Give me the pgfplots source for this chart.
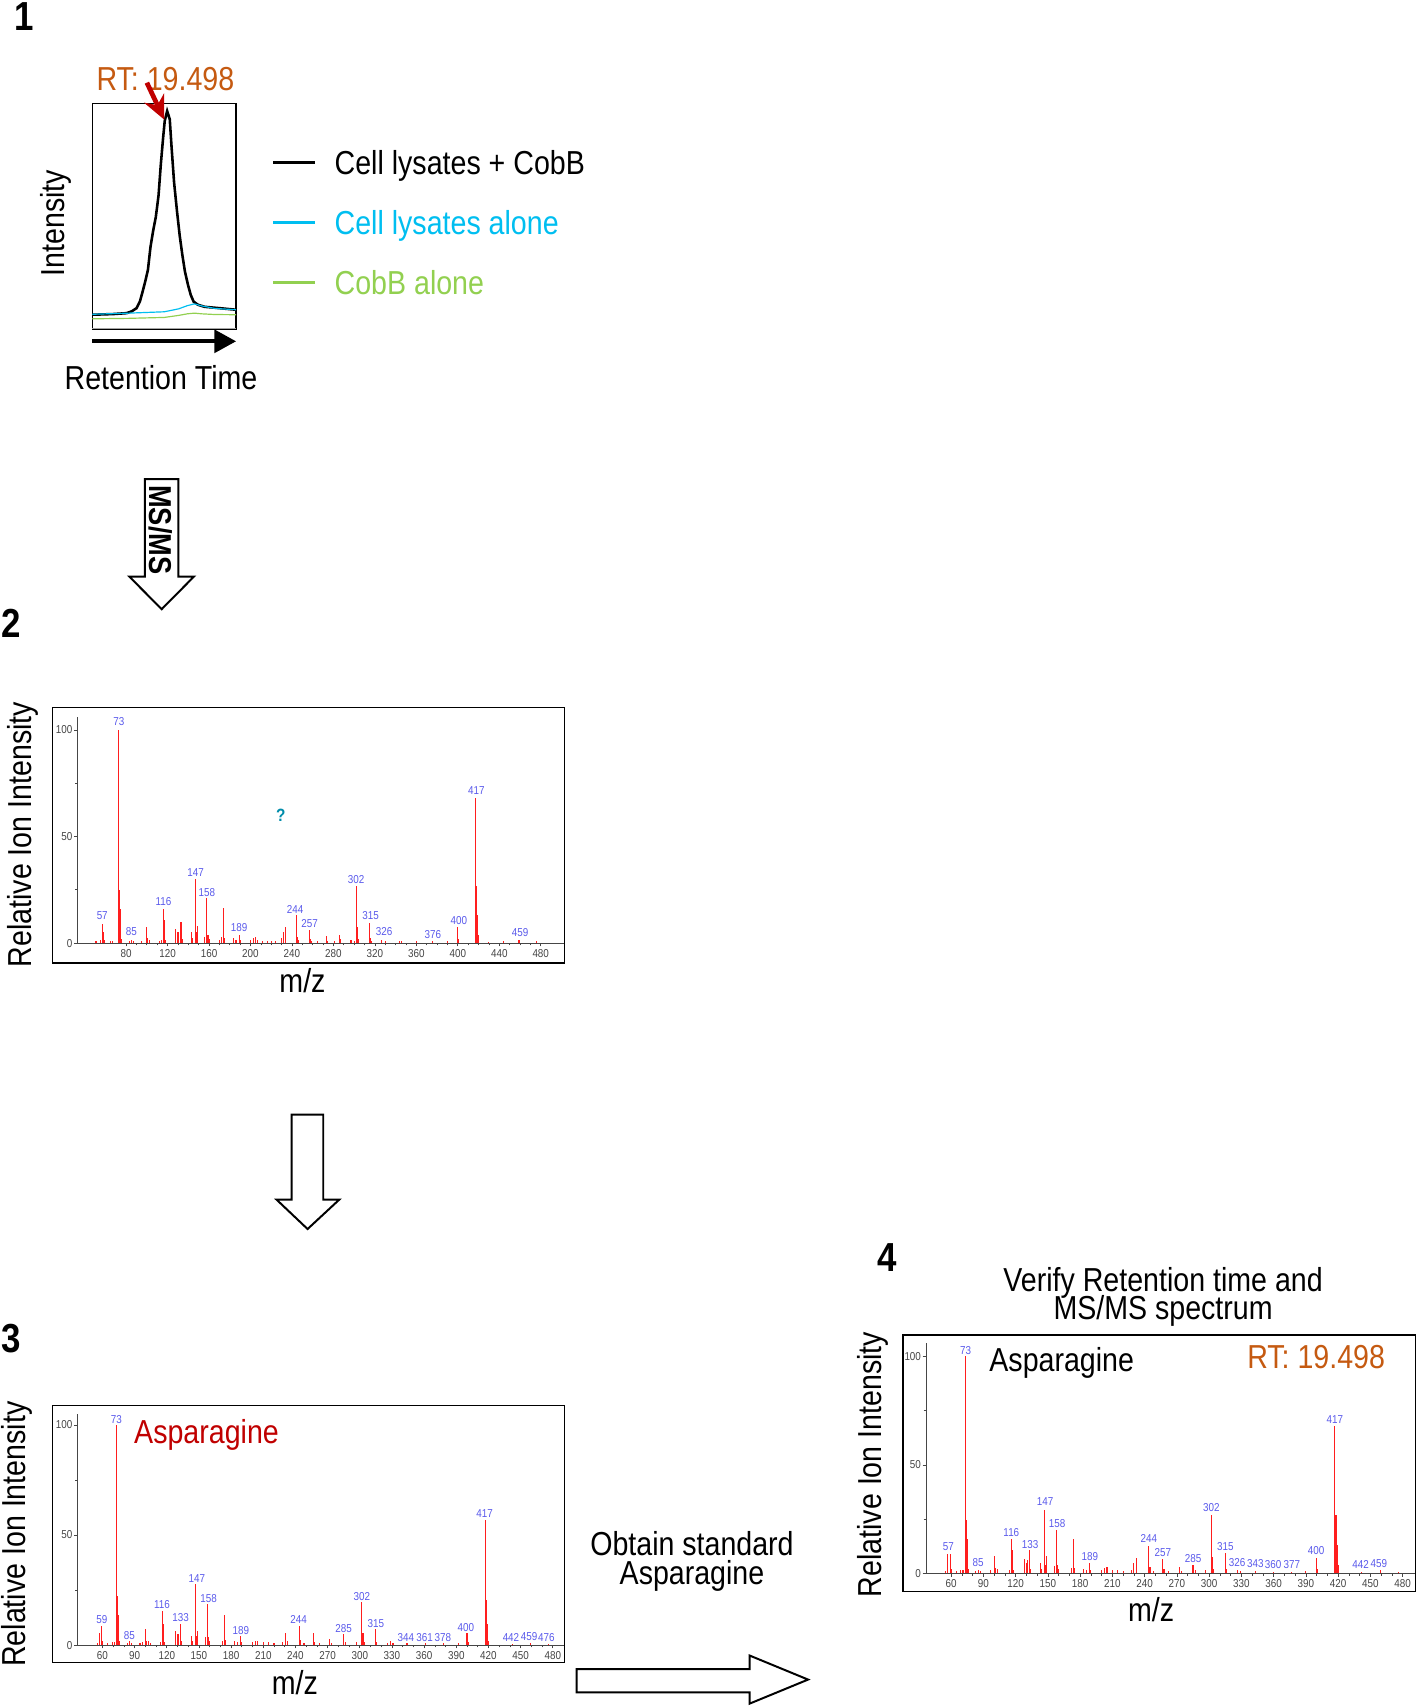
\documentclass[border=0pt]{standalone}
\usepackage{pgfplots}
\pgfplotsset{compat=1.18}
\usepackage{fontspec}
\setmainfont{Liberation Sans}[FakeStretch=0.86]
\usetikzlibrary{arrows.meta}

\definecolor{rtorange}{RGB}{197,90,17}
\definecolor{asnred}{RGB}{192,0,0}
\definecolor{lyscyan}{RGB}{0,190,240}
\definecolor{cobgreen}{RGB}{146,208,80}
\definecolor{pklabel}{RGB}{90,90,235}
\definecolor{tklabel}{RGB}{70,70,70}
\definecolor{qmark}{RGB}{0,140,170}
\definecolor{peakred}{RGB}{255,30,30}

\newcommand{\txt}{\fontsize{16.8}{19}\selectfont}
\newcommand{\tightlines}{\fontsize{16.8}{14.3}\selectfont\lineskiplimit=-30pt}
\newcommand{\pnum}{\fontsize{20.5}{22}\selectfont\bfseries}
\newcommand{\specfont}{\fontsize{5.8}{6.5}\selectfont}

\pgfplotsset{
  spectrum/.style={
    scale only axis, clip=false,
    axis x line*=bottom, axis y line*=left,
    axis line style={tklabel, line width=0.4pt},
    ymin=0, ytick={0,50,100}, minor ytick={25,75},
    tick align=outside, major tick length=1.7pt, minor tick length=1.1pt,
    every tick/.style={tklabel, line width=0.35pt},
    ticklabel style={font=\specfont, text=tklabel},
    yticklabel style={inner sep=0.6pt},
    xticklabel style={inner sep=1.2pt},
    /pgf/number format/assume math mode=true,
  },
  peaks/.style={ycomb, peakred, line width=0.55pt, mark=none},
  plabels/.style={only marks, mark=*, mark size=0pt, mark options={draw=none, fill=none},
    point meta=explicit symbolic, nodes near coords,
    nodes near coords style={anchor=center, inner sep=0pt, font=\specfont, text=pklabel}},
}

\begin{document}
\begin{tikzpicture}[x=0.55pt, y=-0.55pt]

% ---------- panel 1: chromatogram
\coordinate (A1) at (85,303);
\begin{axis}[at={(A1)}, anchor=south west, scale only axis,
    width=72.6pt, height=114.4pt,
    xmin=0, xmax=100, ymin=0, ymax=100, ticks=none,
    axis line style={black, line width=0.7pt}, clip=false,
    legend style={at={(1.25,0.794)}, anchor=north west, draw=none, fill=none,
      inner sep=0pt, outer sep=0pt, row sep=14.7pt, font=\txt,
      cells={anchor=base west},
      nodes={inner sep=0pt, text height=12.2pt, text depth=3.6pt}},
    legend image code/.code={\draw[#1, line width=1.5pt] (0pt,6.05pt) -- (21pt,6.05pt); \path (30.3pt,0pt);},
  ]
  \addplot[black, line width=1.3pt] table {
    x y
    0 6.6
    14.5 6.9
    23.8 7.3
    27.3 8.1
    30.7 9.5
    33.0 12.4
    34.9 16.8
    36.7 21.2
    38.6 26.4
    40.4 36.6
    42.3 43.9
    44.1 49.8
    46.0 59.3
    47.6 73.2
    49.2 84.9
    50.3 92.2
    52.0 96.6
    53.8 93.0
    55.0 81.3
    56.8 65.2
    58.9 52.0
    60.7 41.7
    62.6 32.9
    64.4 25.6
    66.5 19.8
    68.4 15.4
    70.4 12.4
    73.4 11.0
    78.1 10.1
    88.5 9.5
    100 8.8
  };
  \addlegendentry{Cell lysates + CobB}
  \addplot[lyscyan, line width=0.6pt] table {
    x y
    0 6.8
    25 7.3
    50 7.9
    60 9.2
    66 10.6
    71 11.4
    76 10.5
    85 9.4
    100 8.8
  };
  \addlegendentry{\textcolor{lyscyan}{Cell lysates alone}}
  \addplot[cobgreen, line width=0.6pt] table {
    x y
    0 4.8
    25 5.0
    50 5.4
    60 6.3
    66 7.0
    71 7.3
    76 7.0
    85 6.7
    100 6.6
  };
  \addlegendentry{\textcolor{cobgreen}{CobB alone}}
  \draw[gray!70, line width=0.4pt] (rel axis cs:0,0.007) -- (rel axis cs:1,0.007);
\end{axis}

% ---------- panel 2: unknown spectrum
\coordinate (A2) at (71.1,866.8);
\begin{axis}[spectrum, at={(A2)}, anchor=south west,
    width=246.3pt, height=114.2pt,
    xmin=33, xmax=503, ymax=106,
    xtick={80,120,...,480}, minor x tick num=3]
  \addplot[peaks] table {
    x y
    51 1.0
    55 1.5
    57 8.9
    58 5
    59 1.5
    65 1.2
    67 1.0
    73 100
    74 25
    75 16
    76 2
    83 1.2
    85 1.5
    87 1.0
    95 1.0
    100 7.6
    101 2.5
    103 1.5
    112 1.0
    114 1.5
    116 16
    117 10.7
    118 1.5
    128 6.8
    130 5
    131 5
    133 10
    134 2
    143 5
    144 2.5
    147 30
    148 5
    149 8
    156 3
    158 21
    159 4
    160 2
    170 1.5
    172 3
    174 16.5
    175 2.5
    184 2.5
    186 1.5
    189 4
    190 1.5
    200 1.5
    203 2.5
    205 3
    207 1.5
    212 1.0
    216 1.0
    220 1.0
    224 1.0
    230 2.5
    232 5
    234 7.6
    244 13
    245 3
    246 1.5
    257 6.2
    258 2
    259 1
    265 1
    273 3.4
    274 1
    281 1.2
    286 3.7
    287 2
    297 1.5
    300 1
    302 26.7
    303 7.6
    304 2
    315 9.3
    316 2.5
    317 1
    326 1.5
    330 1
    344 1.2
    346 1.2
    360 1
    376 1
    390 1
    400 7.6
    401 2
    417 68.3
    418 27
    419 13
    420 3.7
    430 0.6
    444 0.8
    459 1.5
    476 1
  };
  \addplot[plabels] table[meta=l] {
    x y l
    57 12.7 57
    73 103.9 73
    85 5.3 85
    116 19.4 116
    147 33.2 147
    158 23.6 158
    189 7.3 189
    243 15.8 244
    257 9.3 257
    302 29.7 302
    316 12.7 315
    329 5.3 326
    376 4.0 376
    401 10.4 400
    418 71.4 417
    460 5.0 459
  };
\end{axis}

% ---------- panel 3: standard asparagine
\coordinate (A3) at (71.1,1512);
\begin{axis}[spectrum, at={(A3)}, anchor=south west,
    width=246.3pt, height=116.9pt,
    xmin=36.6, xmax=491, ymax=105,
    xtick={60,90,...,480}, minor x tick num=2]
  \addplot[peaks] table {
    x y
    55 1
    57 5.7
    59 8.8
    60 2
    65 1
    69 1.5
    71 1.5
    73 100
    74 22.4
    75 13.6
    76 2
    83 1
    85 2
    87 1
    95 1
    97 1.5
    100 7.3
    101 2
    103 2
    105 1
    114 1.5
    116 15.3
    117 9.8
    118 1.5
    128 6.5
    130 5
    131 5
    133 9.8
    134 2
    143 4.2
    144 2
    147 27.7
    148 4
    149 6.5
    156 3.5
    158 18.6
    159 3.5
    160 2
    172 2
    174 13.6
    175 2.5
    183 2
    186 1.5
    189 4.1
    190 1.5
    200 1.5
    203 2
    205 2
    210 1.5
    215 1.5
    220 1
    228 1.5
    231 5.7
    233 2
    244 8.8
    245 2.5
    248 1
    257 5.7
    258 1.5
    262 1
    272 2.6
    274 1
    285 5
    287 1.5
    297 1.5
    302 19.4
    303 5.7
    304 1.5
    315 7.3
    316 1.5
    326 1
    329 1.7
    331 1
    344 0.9
    361 0.8
    378 0.8
    392 1
    400 5.7
    401 1.5
    417 56.7
    418 20.6
    419 9.5
    420 2
    442 0.5
    459 0.8
    476 0.5
  };
  \addplot[plabels] table[meta=l] {
    x y l
    59.5 11.8 59
    73 102.3 73
    85 4.5 85
    115.5 18.3 116
    133 12.3 133
    148 30.4 147
    159 21.3 158
    189 6.8 189
    243 11.8 244
    285 7.7 285
    302 22.1 302
    315 10 315
    343 3.5 344
    360.5 3.5 361
    377.5 3.5 378
    399 8 400
    416.5 59.6 417
    441 3.5 442
    458 3.8 459
    474 3.5 476
  };
\end{axis}

% ---------- panel 4: standard at RT
\coordinate (A4) at (851,1446.2);
\begin{axis}[spectrum, at={(A4)}, anchor=south west,
    width=247.5pt, height=116.3pt,
    xmin=36.5, xmax=492, ymax=106,
    xtick={60,90,...,480}, minor x tick num=2]
  \addplot[peaks] table {
    x y
    55 1
    57 9
    59 9
    60 2
    65 1
    69 1.5
    71 1.5
    73 100
    74 24.8
    75 16
    76 2
    83 1
    85 1.8
    87 1
    97 1.5
    100 8
    101 2.5
    103 2
    114 1.5
    116 16
    117 10.7
    118 1.5
    128 6.7
    130 5
    131 6.4
    133 10.7
    134 2
    143 4.9
    144 2
    147 29.4
    148 4
    149 8
    156 3.5
    158 20.2
    159 4
    160 2
    172 2.5
    174 16
    175 2.5
    183 2
    186 1.5
    189 4.9
    190 1.5
    200 1.5
    203 2.5
    205 3
    210 1.5
    215 1.5
    220 1
    228 1.5
    230 5
    232 7.2
    244 12.9
    245 3
    248 1
    257 6.7
    258 2
    262 1
    272 3
    274 1
    285 3.7
    287 1.5
    297 1.5
    302 26.8
    303 7.5
    304 2
    315 9.5
    316 2
    326 1.8
    329 1
    343 1
    360 0.8
    377 0.8
    390 1
    400 7.2
    401 2
    417 67.8
    418 27
    419 13
    420 4
    442 0.5
    459 1.5
    476 0.8
  };
  \addplot[plabels] table[meta=l] {
    x y l
    57.5 12.3 57
    73.5 102.8 73
    85 4.9 85
    116 19 116
    133.5 13.3 133
    147.5 33 147
    158.5 23 158
    189 7.7 189
    244 16 244
    257 9.5 257
    285 6.9 285
    302 30.2 302
    315 12.6 315
    326 4.9 326
    343 4.4 343
    359.5 4 360
    377 4 377
    399.5 10.4 400
    417 70.9 417
    441 4 442
    458 4.6 459
  };
\end{axis}

% ---------- frames round the spectra
\draw[black, line width=0.65pt] (48,650) rectangle (519,885);
\draw[black, line width=0.65pt] (48,1292) rectangle (519,1528);
\draw[black, line width=0.65pt] (830,1227) rectangle (1301,1463);

% ---------- texts
\node[anchor=base, inner sep=0pt, font=\pnum] at (22,28) {1};
\node[anchor=base, inner sep=0pt, font=\pnum] at (10,586) {2};
\node[anchor=base, inner sep=0pt, font=\pnum] at (10,1243) {3};
\node[anchor=base, inner sep=0pt, font=\pnum] at (815,1169) {4};

\node[anchor=base, inner sep=0pt, font=\txt, text=rtorange] at (152,83) {RT: 19.498};
\node[anchor=base, inner sep=0pt, font=\txt, rotate=90] at (59,205) {Intensity};
\node[anchor=base, inner sep=0pt, font=\txt] at (148,358) {Retention Time};

\node[anchor=base, inner sep=0pt, font=\txt, rotate=90] at (29,767) {Relative Ion Intensity};
\node[anchor=base, inner sep=0pt, font=\txt, rotate=90] at (23.5,1410) {Relative Ion Intensity};
\node[anchor=base, inner sep=0pt, font=\txt, rotate=90] at (810,1346) {Relative Ion Intensity};
\node[anchor=base, inner sep=0pt, font=\txt] at (278,912) {m/z};
\node[anchor=base, inner sep=0pt, font=\txt] at (271,1557) {m/z};
\node[anchor=base, inner sep=0pt, font=\txt] at (1058,1490) {m/z};

\node[anchor=base west, inner sep=0pt, font=\txt, text=asnred] at (123,1327) {Asparagine};
\node[anchor=base west, inner sep=0pt, font=\txt] at (909,1261) {Asparagine};
\node[anchor=base west, inner sep=0pt, font=\txt, text=rtorange] at (1146,1258) {RT: 19.498};

% multi-line nodes: base anchor is the baseline of the last line
\node[anchor=base, inner sep=0pt, align=center, font=\tightlines] at (636,1456) {Obtain standard\\Asparagine};
\node[anchor=base, inner sep=0pt, align=center, font=\tightlines] at (1069,1213) {Verify Retention time and\\MS/MS spectrum};

\node[inner sep=0pt, font=\fontsize{9}{10}\selectfont\bfseries, text=qmark] at (258,749) {?};

% ---------- arrows
\draw[asnred, line width=2.4pt, -{Stealth[length=12pt, width=11pt]}] (135,76) -- (151,110);
\draw[black, line width=2pt, -{Triangle[length=11pt, width=11.5pt]}] (85,313.7) -- (217,313.7);

\draw[black, line width=1pt, fill=white] (133.2,440.4) -- (163.9,440.4) -- (163.9,529.9) -- (178.3,529.9)
  -- (148.6,559.9) -- (118.8,529.9) -- (133.2,529.9) -- cycle;
\node[rotate=-90, inner sep=0pt, font=\fontsize{16}{18}\selectfont\bfseries] at (148,487) {MS/MS};

\draw[black, line width=1pt, fill=white] (268,1024.5) -- (297.1,1024.5) -- (297.1,1102.6) -- (311.8,1102.6)
  -- (282.7,1129.6) -- (254.2,1102.6) -- (268,1102.6) -- cycle;

\draw[black, line width=1pt, fill=white] (530,1534) -- (689,1534) -- (689,1521.6) -- (742.7,1543.7)
  -- (689,1565.8) -- (689,1555.4) -- (530,1555.4) -- cycle;

\pgfresetboundingbox
\path (0,0) rectangle (1302,1568);
\end{tikzpicture}
\end{document}
